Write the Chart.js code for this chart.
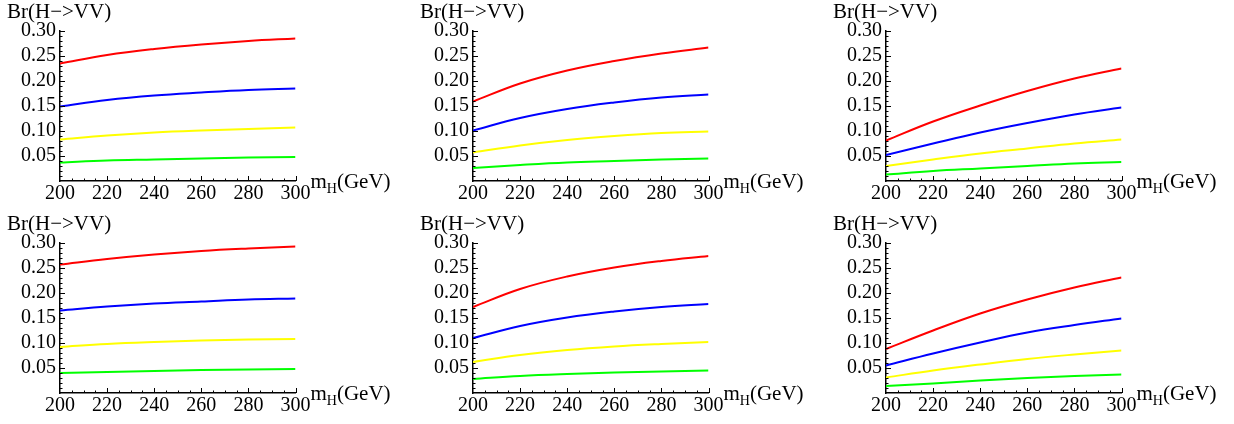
<!DOCTYPE html>
<html>
<head>
<meta charset="utf-8">
<script src="https://cdn.jsdelivr.net/npm/chart.js@4"></script>
<style>
  html, body { margin: 0; padding: 0; background: #fff; overflow: hidden; }
  body { width: 1234px; height: 424px; position: relative; }
  canvas { position: absolute; }
</style>
</head>
<body>
<canvas id="c0" width="408" height="212" style="left:0px;top:0px"></canvas>
<canvas id="c1" width="408" height="212" style="left:413px;top:0px"></canvas>
<canvas id="c2" width="408" height="212" style="left:826px;top:0px"></canvas>
<canvas id="c3" width="408" height="212" style="left:0px;top:212px"></canvas>
<canvas id="c4" width="408" height="212" style="left:413px;top:212px"></canvas>
<canvas id="c5" width="408" height="212" style="left:826px;top:212px"></canvas>
<script>
// Higgs mass (GeV) sampled along the x axis
const masses = [200, 220, 240, 260, 280, 300];
const xTicks = [200, 220, 240, 260, 280, 300];
const yTicks = [0.05, 0.10, 0.15, 0.20, 0.25, 0.30];

// one row per panel (top row left->right, then bottom row)
const redSeries = [
    [0.235, 0.252, 0.264, 0.273, 0.280, 0.285],
    [0.159, 0.195, 0.221, 0.240, 0.255, 0.267],
    [0.081, 0.119, 0.151, 0.180, 0.205, 0.225],
    [0.257, 0.268, 0.277, 0.284, 0.289, 0.293],
    [0.172, 0.208, 0.233, 0.251, 0.264, 0.274],
    [0.088, 0.125, 0.159, 0.187, 0.211, 0.231]
];
const blueSeries = [
    [0.149, 0.162, 0.171, 0.177, 0.182, 0.185],
    [0.101, 0.126, 0.144, 0.157, 0.167, 0.173],
    [0.052, 0.075, 0.097, 0.116, 0.133, 0.147],
    [0.165, 0.173, 0.179, 0.183, 0.187, 0.189],
    [0.110, 0.134, 0.151, 0.163, 0.172, 0.178],
    [0.055, 0.079, 0.101, 0.121, 0.136, 0.149]
];
const yellowSeries = [
    [0.083, 0.091, 0.097, 0.101, 0.104, 0.107],
    [0.057, 0.071, 0.082, 0.090, 0.096, 0.099],
    [0.030, 0.043, 0.055, 0.065, 0.075, 0.083],
    [0.092, 0.098, 0.102, 0.105, 0.107, 0.108],
    [0.062, 0.076, 0.086, 0.093, 0.098, 0.102],
    [0.031, 0.045, 0.057, 0.068, 0.077, 0.085]
];
const greenSeries = [
    [0.037, 0.041, 0.043, 0.045, 0.047, 0.048],
    [0.026, 0.032, 0.037, 0.040, 0.043, 0.045],
    [0.013, 0.020, 0.025, 0.030, 0.035, 0.038],
    [0.040, 0.042, 0.044, 0.046, 0.047, 0.048],
    [0.028, 0.034, 0.038, 0.041, 0.043, 0.045],
    [0.014, 0.019, 0.025, 0.030, 0.034, 0.037]
];

const serif = '"Liberation Serif", "Times New Roman", serif';

// Mathematica-like inward ticks plus the two axis labels
const frameDeco = {
    id: 'frameDeco',
    afterDraw(chart) {
        const { ctx, scales: { x, y } } = chart;
        const x0 = x.getPixelForValue(200);
        const y0 = y.getPixelForValue(0);
        ctx.save();
        ctx.strokeStyle = '#000';
        ctx.lineWidth = 1;
        ctx.beginPath();
        for (let i = 1; i <= 30; i++) {
            const py = Math.round(y.getPixelForValue(i / 100)) + 0.5;
            const len = i % 5 === 0 ? 5 : 2.5;
            ctx.moveTo(x0, py);
            ctx.lineTo(x0 + len, py);
        }
        for (let m = 205; m <= 300; m += 5) {
            const px = Math.round(x.getPixelForValue(m)) + 0.5;
            const len = m % 20 === 0 ? 5 : 2.5;
            ctx.moveTo(px, y0);
            ctx.lineTo(px, y0 - len);
        }
        ctx.stroke();

        ctx.fillStyle = '#000';
        ctx.textBaseline = 'alphabetic';
        ctx.font = '21px ' + serif;
        ctx.fillText('Br(H\u2212>VV)', x0 - 53, y.top - 13);

        let tx = x.getPixelForValue(300) + 15;
        ctx.fillText('m', tx, y0 + 7);
        tx += ctx.measureText('m').width;
        ctx.font = '14px ' + serif;
        ctx.fillText('H', tx, y0 + 12);
        tx += ctx.measureText('H').width;
        ctx.font = '21px ' + serif;
        ctx.fillText('(GeV)', tx, y0 + 7);
        ctx.restore();
    }
};

function makeLine(label, values, color) {
    return {
        label: label,
        data: masses.map((m, i) => ({ x: m, y: values[i] })),
        borderColor: color,
        borderWidth: 2,
        pointRadius: 0,
        fill: false,
        tension: 0.4
    };
}

for (let p = 0; p < 6; p++) {
    new Chart(document.getElementById('c' + p), {
        type: 'line',
        data: {
            datasets: [
                makeLine('red', redSeries[p], '#ff0000'),
                makeLine('blue', blueSeries[p], '#0000ff'),
                makeLine('yellow', yellowSeries[p], '#ffff00'),
                makeLine('green', greenSeries[p], '#00ff00')
            ]
        },
        options: {
            responsive: false,
            animation: false,
            layout: { padding: { left: 0, top: 31, right: 112.5, bottom: 0 } },
            plugins: { legend: false, tooltip: { enabled: false } },
            scales: {
                x: {
                    type: 'linear',
                    min: 200,
                    max: 300,
                    afterFit: (scale) => { scale.height = 31; },
                    afterBuildTicks: (scale) => { scale.ticks = xTicks.map(v => ({ value: v })); },
                    ticks: {
                        color: '#000',
                        font: { family: serif, size: 20 },
                        padding: 1,
                        maxRotation: 0,
                        autoSkip: false
                    },
                    grid: { display: false, drawTicks: false },
                    border: { display: true, color: '#000', width: 1.5 }
                },
                y: {
                    min: 0,
                    max: 0.30,
                    afterFit: (scale) => { scale.width = 60; },
                    afterBuildTicks: (scale) => { scale.ticks = yTicks.map(v => ({ value: v })); },
                    ticks: {
                        color: '#000',
                        font: { family: serif, size: 20 },
                        padding: 4,
                        callback: (value) => value.toFixed(2)
                    },
                    grid: { display: false, drawTicks: false },
                    border: { display: true, color: '#000', width: 1.5 }
                }
            }
        },
        plugins: [frameDeco]
    });
}
</script>
</body>
</html>
